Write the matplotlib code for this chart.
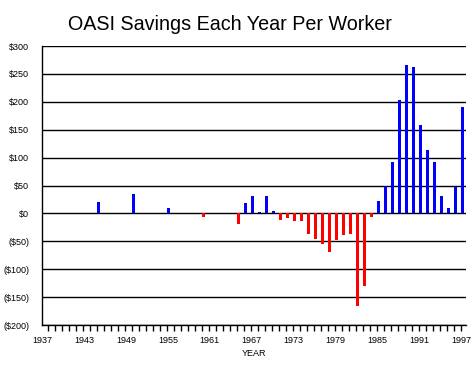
import matplotlib.pyplot as plt
import numpy as np

# dados (dolares por trabalhador)
anos = [1945, 1950, 1955, 1960, 1965, 1966, 1967, 1968, 1969, 1970,
        1971, 1972, 1973, 1974, 1975, 1976, 1977, 1978, 1979, 1980,
        1981, 1982, 1983, 1984, 1985, 1986, 1987, 1988, 1989, 1990,
        1991, 1992, 1993, 1994, 1995, 1996, 1997]
economia = [21, 34, 9, -6, -19, 18, 31, 3, 31, 4,
            -11, -8, -14, -14, -37, -46, -55, -69, -48, -39,
            -37, -166, -130, -6, 22, 50, 93, 203, 266, 262,
            158, 113, 92, 31, 9, 47, 190]
rotulos_anos = [1937, 1943, 1949, 1955, 1961, 1967, 1973, 1979, 1985, 1991, 1997]
valores_y = [300, 250, 200, 150, 100, 50, 0, -50, -100, -150, -200]
rotulos_y = ["$300", "$250", "$200", "$150", "$100", "$50", "$0",
             "($50)", "($100)", "($150)", "($200)"]

plt.rcParams['font.family'] = ['Liberation Sans', 'DejaVu Sans']

fig = plt.figure(figsize=(4.75, 3.75), dpi=100)
ax = fig.add_axes([0.0878, 0.1333, 0.893, 0.744])

cores = ['#0000ff' if v >= 0 else '#ff0000' for v in economia]
ax.bar(np.array(anos) + 0.1, economia, width=0.42, color=cores, zorder=3)

ax.set_xlim(1936.95, 1997.62)
ax.set_ylim(-200, 300)

# grade horizontal preta
for v in valores_y:
    ax.axhline(v, color='black', linewidth=1.0, zorder=2)

ax.set_yticks(valores_y)
ax.set_yticklabels(rotulos_y, fontsize=6.5)
ax.tick_params(axis='y', length=0, pad=9)

ax.set_xticks(rotulos_anos)
ax.set_xticklabels([str(a) for a in rotulos_anos], fontsize=6.5)
ax.set_xticks(np.arange(1937, 1997) + 0.92, minor=True)
ax.tick_params(axis='x', which='major', length=0, pad=8)
ax.tick_params(axis='x', which='minor', length=4, width=1.0, direction='out')
ax.set_xlabel("YEAR", fontsize=6.5, labelpad=3)

for lado in ['top', 'right']:
    ax.spines[lado].set_visible(False)
ax.spines['left'].set_linewidth(1.0)
ax.spines['bottom'].set_linewidth(1.0)

fig.text(0.484, 0.935, "OASI Savings Each Year Per Worker",
         fontsize=14.2, ha='center', va='center')

plt.savefig("out.png", dpi=100)
